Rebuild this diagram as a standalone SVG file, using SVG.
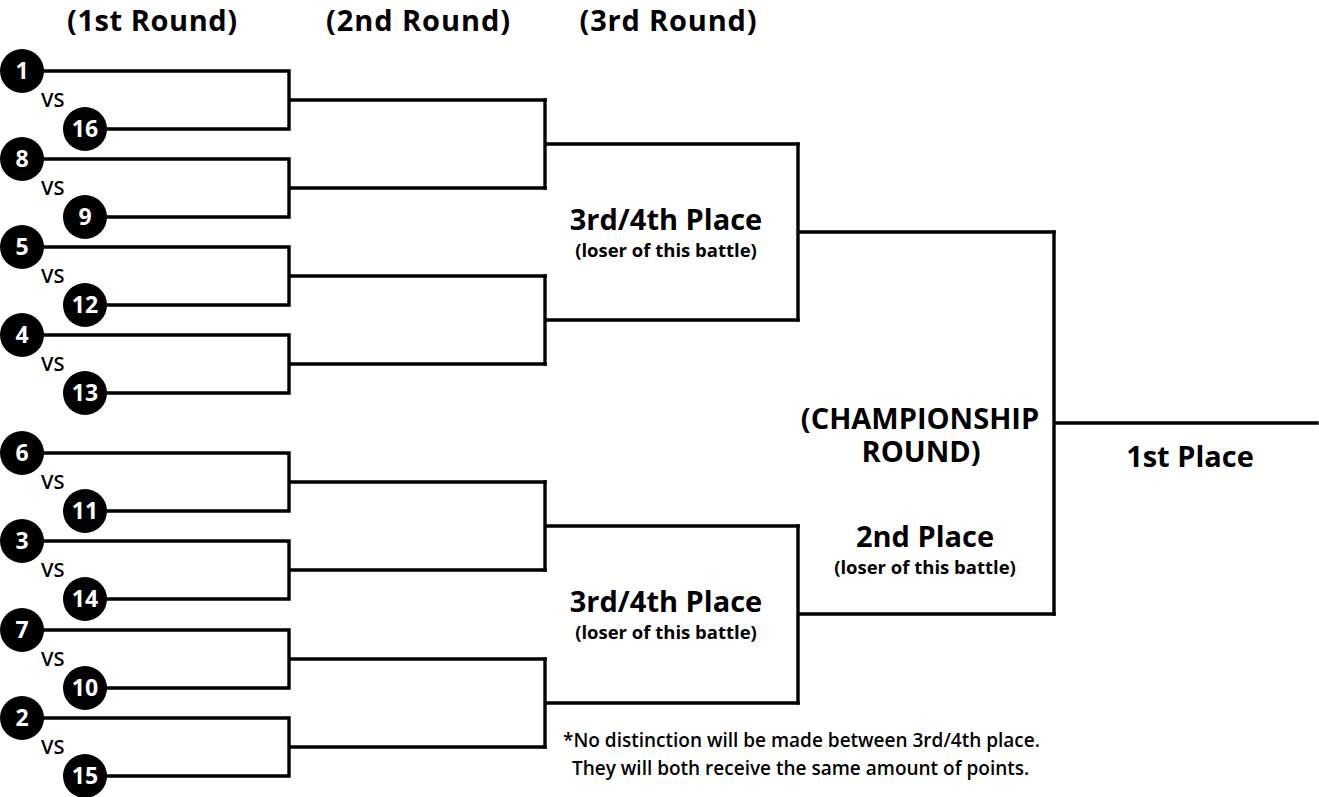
<svg xmlns="http://www.w3.org/2000/svg" width="1319" height="797" viewBox="0 0 1319 797">
<style>
  .ln { fill: none; stroke: #000; stroke-width: 3.4; stroke-linecap: square; stroke-linejoin: miter; }
  .seed circle { fill: #000; }
  .num { font-family: "Open Sans", "Liberation Sans", sans-serif; font-weight: 700; font-size: 23px; fill: #fff; text-anchor: middle; }
  .vs { font-family: "Open Sans", "Liberation Sans", sans-serif; font-weight: 600; font-size: 20px; fill: #000; }
  .hdr { font-family: "Open Sans", "Liberation Sans", sans-serif; font-weight: 700; font-size: 29px; fill: #000; text-anchor: middle; }
  .big { font-family: "Open Sans", "Liberation Sans", sans-serif; font-weight: 700; font-size: 29px; fill: #000; text-anchor: middle; }
  .sub { font-family: "Open Sans", "Liberation Sans", sans-serif; font-weight: 700; font-size: 18.5px; fill: #000; text-anchor: middle; }
  .note { font-family: "Open Sans", "Liberation Sans", sans-serif; font-weight: 600; font-size: 19px; fill: #000; }
</style>
<rect width="1319" height="797" fill="#fff"/>

<g id="headers">
  <text class="hdr" x="152" y="31" textLength="170">(1st Round)</text>
  <text class="hdr" x="418" y="31" textLength="184">(2nd Round)</text>
  <text class="hdr" x="668" y="31" textLength="177">(3rd Round)</text>
</g>

<g id="connectors">
  <!-- round 1 brackets -->
  <path class="ln" d="M22 71 H289 V129 H85 M289 100 H545"/>
  <path class="ln" d="M22 159 H289 V217 H85 M289 188 H545"/>
  <path class="ln" d="M22 247 H289 V305 H85 M289 276 H545"/>
  <path class="ln" d="M22 335 H289 V393 H85 M289 364 H545"/>
  <path class="ln" d="M22 453 H289 V511 H85 M289 482 H545"/>
  <path class="ln" d="M22 541 H289 V599 H85 M289 570 H545"/>
  <path class="ln" d="M22 630 H289 V688 H85 M289 659 H545"/>
  <path class="ln" d="M22 718 H289 V776 H85 M289 747 H545"/>
  <!-- round 2 brackets -->
  <path class="ln" d="M545 100 V188 M545 144 H798"/>
  <path class="ln" d="M545 276 V364 M545 320 H798"/>
  <path class="ln" d="M545 482 V570 M545 526 H798"/>
  <path class="ln" d="M545 659 V747 M545 703 H798"/>
  <!-- round 3 brackets -->
  <path class="ln" d="M798 144 V320 M798 232 H1054"/>
  <path class="ln" d="M798 526 V703 M798 614 H1054"/>
  <!-- championship -->
  <path class="ln" d="M1054 232 V614 M1054 423 H1317"/>
</g>

<g id="seed-1" class="seed"><circle cx="22" cy="71" r="22"/><text class="num" x="22" y="79">1</text></g>
<g id="seed-16" class="seed"><circle cx="85" cy="129" r="22"/><text class="num" x="85" y="137">16</text></g>
<g id="seed-8" class="seed"><circle cx="22" cy="159" r="22"/><text class="num" x="22" y="167">8</text></g>
<g id="seed-9" class="seed"><circle cx="85" cy="217" r="22"/><text class="num" x="85" y="225">9</text></g>
<g id="seed-5" class="seed"><circle cx="22" cy="247" r="22"/><text class="num" x="22" y="255">5</text></g>
<g id="seed-12" class="seed"><circle cx="85" cy="305" r="22"/><text class="num" x="85" y="313">12</text></g>
<g id="seed-4" class="seed"><circle cx="22" cy="335" r="22"/><text class="num" x="22" y="343">4</text></g>
<g id="seed-13" class="seed"><circle cx="85" cy="393" r="22"/><text class="num" x="85" y="401">13</text></g>
<g id="seed-6" class="seed"><circle cx="22" cy="453" r="22"/><text class="num" x="22" y="461">6</text></g>
<g id="seed-11" class="seed"><circle cx="85" cy="511" r="22"/><text class="num" x="85" y="519">11</text></g>
<g id="seed-3" class="seed"><circle cx="22" cy="541" r="22"/><text class="num" x="22" y="549">3</text></g>
<g id="seed-14" class="seed"><circle cx="85" cy="599" r="22"/><text class="num" x="85" y="607">14</text></g>
<g id="seed-7" class="seed"><circle cx="22" cy="630" r="22"/><text class="num" x="22" y="638">7</text></g>
<g id="seed-10" class="seed"><circle cx="85" cy="688" r="22"/><text class="num" x="85" y="696">10</text></g>
<g id="seed-2" class="seed"><circle cx="22" cy="718" r="22"/><text class="num" x="22" y="726">2</text></g>
<g id="seed-15" class="seed"><circle cx="85" cy="776" r="22"/><text class="num" x="85" y="784">15</text></g>

<g id="vs-labels">
  <text class="vs" x="41" y="107">VS</text>
  <text class="vs" x="41" y="195">VS</text>
  <text class="vs" x="41" y="283">VS</text>
  <text class="vs" x="41" y="371">VS</text>
  <text class="vs" x="41" y="489">VS</text>
  <text class="vs" x="41" y="577">VS</text>
  <text class="vs" x="41" y="666">VS</text>
  <text class="vs" x="41" y="754">VS</text>
</g>

<g id="semi-top">
  <text class="big" x="666" y="230">3rd/4th Place</text>
  <text class="sub" x="666" y="257">(loser of this battle)</text>
</g>
<g id="semi-bottom">
  <text class="big" x="666" y="612">3rd/4th Place</text>
  <text class="sub" x="666" y="639">(loser of this battle)</text>
</g>
<g id="championship">
  <text class="big" x="920" y="429">(CHAMPIONSHIP</text>
  <text class="big" x="921" y="462">ROUND)</text>
</g>
<g id="second-place">
  <text class="big" x="925" y="547">2nd Place</text>
  <text class="sub" x="925" y="574">(loser of this battle)</text>
</g>
<g id="first-place">
  <text class="big" x="1190" y="467">1st Place</text>
</g>
<g id="footnote">
  <text class="note" x="563" y="747">*No distinction will be made between 3rd/4th place.</text>
  <text class="note" x="572" y="775">They will both receive the same amount of points.</text>
</g>
</svg>
